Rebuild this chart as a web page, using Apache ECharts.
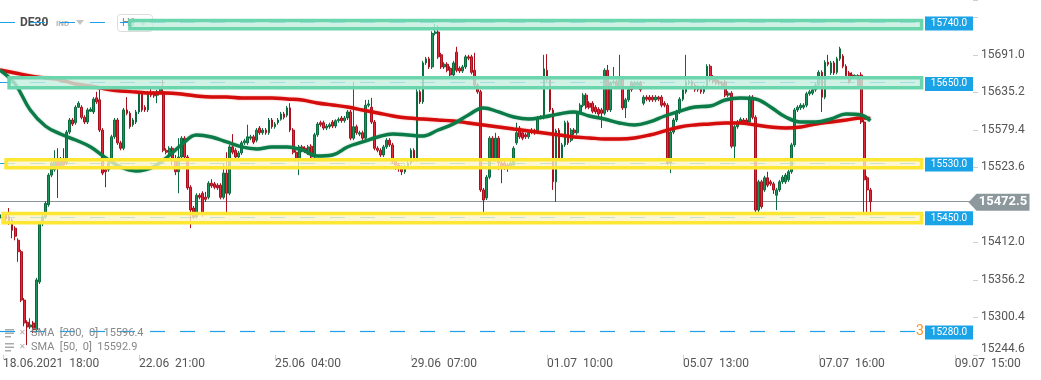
<!DOCTYPE html>
<html><head><meta charset="utf-8">
<script src="https://cdn.jsdelivr.net/npm/echarts@6/dist/echarts.min.js"></script>
<style>html,body{margin:0;padding:0;background:#fff}#c{width:1041px;height:380px}</style>
</head><body><div id="c"></div>
<script>
// ---- data ----
const tickLabels = ['18.06.2021  18:00','22.06  21:00','25.06  04:00','29.06  07:00','01.07  10:00','05.07  13:00','07.07  16:00','09.07  15:00'];
const tickIndex = [1,46,91,136,181,226,271,316];
const slotCount = 323;

// [open, close, low, high], hourly DE30 candles
const candles = [
[15448,15453,15445,15456],[15450,15454,15447,15457],[15454,15447,15444,15457],[15450,15441,15438,15463],[15445,15430,15418,15448],
[15433,15421,15415,15436],[15415,15398,15383,15418],[15398,15326,15323,15401],[15326,15292,15287,15329],[15293,15286,15259,15296],
[15286,15289,15283,15299],[15292,15282,15277,15295],[15282,15356,15279,15359],[15353,15441,15350,15444],[15441,15450,15436,15453],
[15450,15470,15447,15473],[15468,15512,15465,15515],[15512,15530,15509,15533],[15520,15532,15517,15549],[15532,15524,15478,15552],
[15526,15533,15523,15539],[15534,15527,15524,15552],[15530,15576,15527,15579],[15576,15594,15573,15597],[15594,15588,15585,15597],
[15590,15613,15587,15616],[15613,15619,15612,15622],[15613,15598,15595,15616],[15598,15591,15588,15601],[15591,15609,15588,15612],
[15607,15610,15606,15613],[15606,15625,15603,15628],[15627,15621,15618,15636],[15624,15579,15576,15639],[15579,15515,15512,15582],
[15520,15517,15494,15523],[15520,15530,15517,15533],[15534,15569,15532,15572],[15569,15594,15566,15597],[15594,15560,15557,15597],
[15560,15552,15549,15563],[15552,15609,15549,15612],[15609,15604,15601,15628],[15604,15584,15581,15607],[15587,15594,15584,15597],
[15591,15606,15588,15609],[15606,15633,15603,15636],[15633,15609,15606,15636],[15613,15609,15606,15616],[15609,15634,15606,15637],
[15634,15631,15628,15642],[15633,15630,15627,15637],[15631,15636,15619,15639],[15636,15640,15633,15643],[15636,15549,15546,15654],
[15549,15546,15543,15552],[15546,15552,15542,15555],[15552,15534,15527,15555],[15534,15517,15512,15542],[15517,15539,15485,15567],
[15539,15567,15536,15570],[15567,15539,15536,15570],[15539,15493,15490,15542],[15494,15460,15433,15497],[15463,15450,15447,15466],
[15450,15482,15447,15485],[15482,15479,15476,15485],[15485,15457,15450,15488],[15479,15476,15472,15487],[15479,15500,15476,15503],
[15500,15496,15493,15506],[15499,15494,15491,15502],[15497,15493,15490,15500],[15497,15479,15476,15500],[15479,15515,15476,15530],
[15515,15485,15457,15546],[15485,15554,15482,15557],[15554,15546,15543,15573],[15549,15539,15536,15552],[15539,15545,15536,15548],
[15545,15560,15542,15563],[15560,15563,15557,15566],[15560,15569,15557,15587],[15567,15569,15564,15572],[15569,15561,15558,15572],
[15564,15579,15561,15582],[15582,15575,15572,15585],[15575,15579,15572,15582],[15579,15575,15572,15582],[15575,15594,15572,15597],
[15594,15584,15581,15597],[15584,15588,15581,15591],[15590,15594,15587,15597],[15595,15603,15593,15606],[15603,15598,15595,15606],
[15601,15612,15598,15615],[15612,15579,15576,15619],[15579,15546,15543,15582],[15546,15534,15532,15549],[15534,15554,15512,15557],
[15554,15549,15546,15557],[15552,15548,15545,15555],[15545,15554,15542,15557],[15555,15539,15536,15558],[15539,15572,15536,15575],
[15572,15588,15569,15591],[15590,15587,15584,15593],[15590,15582,15579,15593],[15582,15585,15579,15588],[15584,15587,15581,15590],
[15591,15585,15582,15594],[15585,15593,15582,15595],[15593,15595,15590,15598],[15597,15593,15590,15600],[15593,15597,15590,15600],
[15597,15606,15594,15609],[15606,15567,15564,15609],[15567,15584,15564,15651],[15584,15575,15572,15587],[15573,15575,15570,15578],
[15575,15567,15564,15578],[15567,15616,15564,15624],[15616,15618,15613,15624],[15613,15591,15588,15627],[15591,15552,15549,15594],
[15552,15549,15546,15555],[15549,15542,15539,15552],[15542,15554,15539,15557],[15554,15564,15551,15567],[15564,15557,15554,15567],
[15557,15532,15529,15560],[15532,15527,15520,15534],[15527,15524,15517,15530],[15524,15517,15512,15527],[15517,15524,15514,15527],
[15524,15530,15521,15533],[15530,15549,15527,15552],[15549,15534,15532,15552],[15534,15636,15532,15642],[15636,15621,15618,15639],
[15621,15679,15618,15682],[15679,15685,15676,15688],[15685,15673,15670,15688],[15673,15723,15670,15726],[15723,15725,15720,15737],
[15725,15688,15685,15735],[15691,15673,15670,15694],[15673,15677,15670,15680],[15677,15668,15665,15680],[15671,15661,15658,15674],
[15661,15679,15658,15682],[15695,15668,15665,15703],[15671,15667,15664,15674],[15667,15673,15664,15676],[15673,15688,15670,15691],
[15688,15686,15683,15691],[15688,15665,15662,15691],[15668,15646,15643,15694],[15646,15636,15633,15649],[15636,15490,15487,15639],
[15490,15475,15457,15493],[15478,15509,15475,15512],[15509,15567,15506,15570],[15567,15534,15532,15570],[15534,15567,15532,15575],
[15567,15530,15520,15570],[15530,15524,15500,15533],[15530,15524,15520,15533],[15527,15524,15517,15530],[15524,15530,15521,15533],
[15527,15552,15524,15555],[15560,15575,15557,15590],[15582,15569,15566,15585],[15575,15567,15564,15578],[15572,15569,15566,15575],
[15569,15575,15566,15578],[15579,15576,15573,15582],[15578,15575,15572,15581],[15576,15597,15573,15600],[15597,15598,15595,15601],
[15598,15670,15595,15691],[15668,15654,15651,15692],[15654,15609,15606,15657],[15609,15502,15490,15612],[15502,15578,15472,15581],
[15579,15537,15534,15582],[15537,15557,15534,15560],[15557,15590,15554,15593],[15590,15560,15557,15593],[15564,15579,15561,15582],
[15579,15575,15572,15582],[15575,15604,15572,15607],[15606,15616,15603,15619],[15616,15631,15613,15634],[15631,15613,15610,15634],
[15619,15613,15610,15622],[15619,15607,15604,15622],[15613,15606,15603,15616],[15610,15603,15600,15613],[15609,15604,15582,15612],
[15604,15668,15601,15671],[15668,15609,15606,15676],[15609,15649,15606,15652],[15649,15651,15646,15673],[15651,15643,15640,15654],
[15643,15654,15640,15691],[15655,15612,15609,15658],[15612,15624,15597,15627],[15624,15639,15621,15642],[15649,15639,15636,15652],
[15643,15649,15640,15652],[15646,15649,15643,15652],[15649,15639,15636,15652],[15619,15628,15616,15631],[15628,15625,15622,15631],
[15628,15624,15621,15631],[15628,15624,15621,15631],[15624,15628,15621,15631],[15628,15625,15622,15630],[15628,15616,15613,15631],
[15619,15616,15613,15622],[15616,15530,15527,15619],[15530,15576,15515,15579],[15576,15594,15573,15597],[15594,15606,15591,15609],
[15606,15625,15603,15628],[15625,15639,15622,15642],[15636,15651,15633,15691],[15649,15651,15646,15654],[15651,15646,15643,15654],
[15646,15639,15636,15649],[15643,15639,15636,15646],[15642,15636,15633,15645],[15636,15643,15633,15646],[15643,15674,15640,15677],
[15674,15654,15651,15677],[15658,15651,15648,15661],[15654,15649,15646,15657],[15651,15648,15645,15654],[15649,15643,15640,15652],
[15651,15631,15628,15654],[15631,15634,15628,15637],[15634,15555,15552,15637],[15555,15584,15537,15587],[15584,15591,15581,15594],
[15591,15595,15588,15598],[15594,15590,15587,15597],[15594,15591,15588,15597],[15591,15628,15588,15631],[15628,15598,15595,15631],
[15598,15460,15457,15601],[15460,15502,15454,15505],[15502,15465,15462,15505],[15490,15508,15487,15511],[15508,15497,15494,15517],
[15502,15499,15496,15505],[15499,15490,15484,15502],[15482,15490,15460,15493],[15490,15502,15487,15505],[15502,15509,15499,15512],
[15502,15512,15499,15515],[15505,15517,15502,15520],[15517,15557,15514,15560],[15557,15609,15554,15612],[15609,15613,15606,15616],
[15612,15616,15609,15619],[15613,15616,15610,15619],[15616,15633,15613,15636],[15633,15636,15630,15639],[15634,15639,15631,15642],
[15639,15646,15636,15649],[15646,15665,15643,15668],[15665,15628,15606,15668],[15628,15680,15625,15683],[15680,15677,15674,15691],
[15664,15679,15661,15682],[15679,15664,15661,15682],[15665,15685,15662,15688],[15685,15700,15682,15703],[15689,15674,15671,15692],
[15674,15660,15657,15677],[15664,15651,15648,15667],[15661,15658,15655,15665],[15658,15660,15656,15662],[15660,15645,15642,15662],
[15661,15591,15588,15665],[15591,15505,15457,15594],[15508,15490,15457,15511],[15490,15472.5,15457,15493]
];

const smaIndex = [0,5,10,15,20,25,30,35,40,45,50,55,60,65,70,75,80,85,90,95,100,105,110,115,120,125,130,135,140,145,150,155,160,165,170,175,180,185,190,195,200,205,210,215,220,225,230,235,240,245,250,255,260,265,270,275,280,285,288];
const sma200 = [15668.4,15664.0,15659.5,15656.5,15653.6,15647.6,15644.6,15640.2,15637.2,15635.7,15634.2,15634.2,15632.7,15629.8,15628.3,15628.3,15626.8,15626.8,15626.8,15625.3,15623.8,15619.3,15616.4,15613.4,15608.9,15604.5,15600.0,15597.0,15595.5,15594.0,15592.6,15589.6,15586.6,15583.6,15580.6,15577.7,15574.7,15571.7,15568.7,15567.3,15565.8,15565.8,15567.3,15571.7,15577.7,15583.6,15586.6,15588.1,15589.6,15589.6,15586.6,15583.6,15582.1,15583.6,15588.1,15591.1,15594.0,15597.0,15596.4];
const sma50 = [15668.4,15647.6,15608.9,15585.1,15573.2,15564.3,15553.9,15537.5,15524.1,15518.2,15522.6,15537.5,15556.8,15571.7,15568.7,15561.3,15553.9,15550.9,15553.9,15553.9,15549.4,15540.5,15542.0,15553.9,15561.3,15568.7,15573.2,15571.7,15570.2,15579.2,15588.1,15601.5,15611.9,15606.0,15598.5,15595.5,15598.5,15603.0,15606.0,15600.0,15595.5,15589.6,15586.6,15591.1,15600.0,15607.4,15613.4,15614.9,15623.8,15626.8,15625.3,15613.4,15598.5,15591.1,15591.1,15595.5,15603.0,15601.5,15592.9];

const levels = [15740, 15650, 15530, 15450, 15280];
const zoneLo = [15730, 15642, 15523, 15441];
const zoneHi = [15742, 15657, 15535, 15455];
const zoneStart = [43, 3, 2, 1];
const zoneEnd = 305;
const zoneKind = ['green', 'green', 'yellow', 'yellow'];
const lastPrice = 15472.5;
const yMin = 15244.6, yMax = 15772.6, yStep = 55.8;

// ---- build chart ----
const cats = [];
for (let i = 0; i < slotCount; i++) {
  const k = tickIndex.indexOf(i);
  cats.push(k >= 0 ? tickLabels[k] : '');
}
const pairs = (arr) => arr.map((v, i) => [smaIndex[i], v]);
const zoneStyle = {
  green: { color: 'rgba(196,239,222,0.8)', borderColor: '#6bd6ae', borderWidth: 3.5 },
  yellow: { color: 'rgba(251,244,200,0.78)', borderColor: '#fde733', borderWidth: 3.5 }
};
const hiddenTicks = [15467.8, 15746.8, yMax];

const chart = echarts.init(document.getElementById('c'), null, { renderer: 'canvas' });
chart.setOption({
  animation: false,
  backgroundColor: '#fff',
  textStyle: { fontFamily: 'Roboto, sans-serif' },
  grid: { left: 0, right: 68, top: 0, bottom: 25.2, containLabel: false, outerBoundsMode: 'none' },
  xAxis: {
    type: 'category', data: cats, boundaryGap: false,
    axisLine: { show: false },
    axisTick: { show: true, length: 5, interval: (i, v) => v !== '', lineStyle: { color: '#d0d0d0' } },
    axisLabel: { interval: 0, align: 'left', margin: 3, color: '#555', fontSize: 12, formatter: v => v },
    splitLine: { show: false }
  },
  yAxis: {
    type: 'value', position: 'right', min: yMin, max: yMax, interval: yStep,
    axisLine: { show: false },
    axisTick: { show: true, length: 5, lineStyle: { color: '#d0d0d0' } },
    splitLine: { show: false },
    axisLabel: {
      color: '#555', fontSize: 12, margin: 8,
      formatter: v => {
        if (hiddenTicks.some(h => Math.abs(h - v) < 0.05)) return '';
        if (Math.abs(v - yMin) < 0.05) return '{b|' + v.toFixed(1) + '}';
        return v.toFixed(1);
      },
      rich: { b: { color: '#555', fontSize: 12, padding: [0, 0, 12, 0] } }
    }
  },
  series: [
    {
      type: 'candlestick', data: candles, barWidth: 2.3, z: 2,
      itemStyle: { color: '#1c9159', color0: '#e3293a', borderColor: '#0b6b3f', borderColor0: '#a8101e', borderWidth: 1 }
    },
    {
      type: 'line', data: pairs(sma200), smooth: 0.4, showSymbol: false, z: 3,
      lineStyle: { color: '#d40c0c', width: 3.4, shadowColor: 'rgba(212,12,12,0.4)', shadowBlur: 2 }
    },
    {
      type: 'line', data: pairs(sma50), smooth: 0.4, showSymbol: false, z: 3,
      lineStyle: { color: '#0b7b47', width: 3.4, shadowColor: 'rgba(11,123,71,0.4)', shadowBlur: 2 }
    },
    {
      type: 'line', data: [], z: 1,
      markLine: {
        z: 1, silent: true, symbol: 'none', label: { show: false },
        lineStyle: { color: '#1e9fe6', width: 1.2, type: [15, 15], opacity: 1 },
        data: levels.map(v => ({ yAxis: v }))
      }
    },
    {
      type: 'line', data: [], z: 1,
      markLine: {
        z: 1, silent: true, symbol: 'none', label: { show: false },
        lineStyle: { color: '#8a969c', width: 1, type: 'solid', opacity: 1 },
        data: [{ yAxis: lastPrice }]
      },
      markArea: {
        z: 4, silent: true, label: { show: false },
        data: zoneLo.map((lo, i) => [
          { coord: [zoneStart[i], zoneHi[i]], itemStyle: zoneStyle[zoneKind[i]] },
          { coord: [zoneEnd, lo] }
        ])
      },
      markPoint: {
        z: 6, silent: true,
        data: [{
          coord: [303, levels[4]], symbol: 'rect', symbolSize: [1, 1], itemStyle: { color: 'rgba(0,0,0,0)' },
          label: { show: true, position: 'right', distance: 0, color: '#f7941d', fontSize: 14, formatter: '3' }
        }].concat(levels.map(v => ({
          coord: [slotCount - 1, v], symbol: 'rect', symbolSize: [48, 14], symbolOffset: [-24, 1.5],
          itemStyle: { color: '#1ba3e8' },
          label: { show: true, position: 'inside', color: '#fff', fontSize: 10, formatter: v.toFixed(1) }
        }))).concat([{
          coord: [slotCount - 1, lastPrice], symbol: 'path://M0,8.5L8,0L61,0L61,17L8,17Z', symbolSize: [61, 17],
          symbolOffset: [26, 0.5], itemStyle: { color: '#8d989d' },
          label: { show: true, position: 'inside', offset: [4, 0], color: '#fff', fontSize: 13, fontWeight: 'bold', formatter: lastPrice.toFixed(1) }
        }])
      }
    }
  ],
  graphic: [
    { type: 'text', z: 0, x: 20, y: 23, style: { text: 'DE30', font: 'bold 12px Roboto', fill: '#4d4d4d', verticalAlign: 'middle' } },
    { type: 'text', z: 0, x: 56, y: 24, style: { text: 'IND', font: 'bold 8px Roboto', fill: '#b3b3b3', verticalAlign: 'middle' } },
    { type: 'polygon', z: 0, shape: { points: [[76, 20], [84, 20], [80, 25]] }, style: { fill: '#c4c4c4' } },
    { type: 'rect', z: 0, shape: { x: 117.5, y: 14.5, width: 35, height: 17, r: 3 }, style: { fill: '#fff', stroke: '#dcdcdc' } },
    { type: 'text', z: 0, x: 122, y: 23, style: { text: 'H1', font: '11px Roboto', fill: '#8a8a8a', verticalAlign: 'middle' } },
    { type: 'polygon', z: 0, shape: { points: [[139, 21], [147, 21], [143, 26]] }, style: { fill: '#c4c4c4' } },
    { type: 'rect', z: 7, shape: { x: 5, y: 329, width: 9, height: 1.5 }, style: { fill: '#aaa' } },
    { type: 'rect', z: 7, shape: { x: 5, y: 332.5, width: 9, height: 1.5 }, style: { fill: '#aaa' } },
    { type: 'rect', z: 7, shape: { x: 5, y: 336, width: 6, height: 1.5 }, style: { fill: '#aaa' } },
    { type: 'text', z: 7, x: 19, y: 333, style: { text: '✕', font: 'bold 8px DejaVu Sans', fill: '#aaa', verticalAlign: 'middle' } },
    { type: 'text', z: 7, x: 31, y: 333, style: { text: 'SMA  [200,  0]  ' + sma200[sma200.length - 1].toFixed(1), font: '11px Roboto', fill: '#888', verticalAlign: 'middle' } },
    { type: 'rect', z: 7, shape: { x: 5, y: 343, width: 9, height: 1.5 }, style: { fill: '#aaa' } },
    { type: 'rect', z: 7, shape: { x: 5, y: 346.5, width: 9, height: 1.5 }, style: { fill: '#aaa' } },
    { type: 'rect', z: 7, shape: { x: 5, y: 350, width: 6, height: 1.5 }, style: { fill: '#aaa' } },
    { type: 'text', z: 7, x: 19, y: 347, style: { text: '✕', font: 'bold 8px DejaVu Sans', fill: '#aaa', verticalAlign: 'middle' } },
    { type: 'text', z: 7, x: 31, y: 347, style: { text: 'SMA  [50,  0]  ' + sma50[sma50.length - 1].toFixed(1), font: '11px Roboto', fill: '#888', verticalAlign: 'middle' } }
  ]
});
</script>
</body></html>
